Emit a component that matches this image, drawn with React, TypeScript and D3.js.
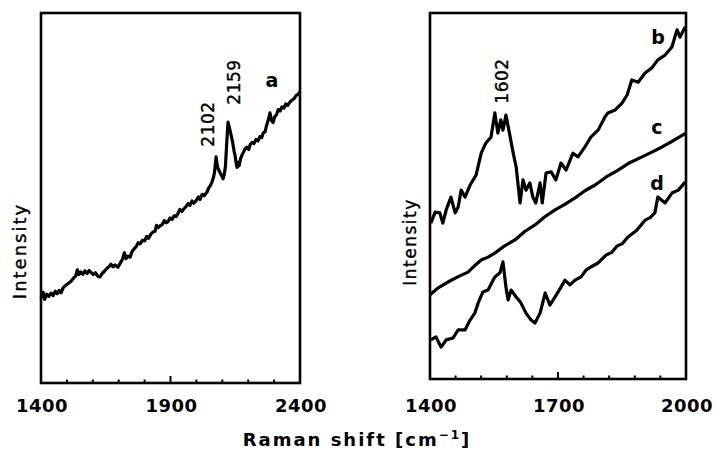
import React from "react";
import * as d3 from "d3";

// left panel, spectrum a
const shiftA = [
  1400, 1408, 1414, 1422, 1430, 1439, 1447, 1455, 1463, 1470, 1477, 1486, 1495, 1505, 1516, 1526, 1534, 1540, 1546, 1553,
  1562, 1570, 1578, 1586, 1593, 1602, 1610, 1620, 1628, 1636, 1645, 1655, 1663, 1670, 1678, 1686, 1697, 1706, 1715, 1722,
  1728, 1736, 1744, 1752, 1760, 1768, 1775, 1783, 1792, 1800, 1808, 1815, 1824, 1832, 1840, 1846, 1852, 1860, 1868, 1876,
  1884, 1890, 1898, 1906, 1914, 1922, 1929, 1936, 1944, 1952, 1960, 1968, 1975, 1983, 1990, 2000, 2008, 2014, 2022, 2030,
  2041, 2048, 2055, 2060, 2066, 2070, 2076, 2080, 2083, 2090, 2097, 2103, 2108, 2112, 2116, 2122, 2128, 2134, 2140, 2146,
  2150, 2154, 2157, 2161, 2165, 2170, 2176, 2182, 2188, 2195, 2202, 2208, 2215, 2222, 2230, 2238, 2245, 2252, 2258, 2265,
  2271, 2278, 2284, 2290, 2296, 2302, 2310, 2316, 2323, 2330, 2338, 2345, 2352, 2361, 2370, 2378, 2386, 2393, 2400,
];
const intensityA = [
  23.0, 24.5, 22.6, 24.0, 23.4, 24.3, 23.6, 24.8, 24.1, 25.0, 24.4, 25.8, 26.4, 26.9, 27.5, 28.4, 28.9, 30.6, 29.3, 30.0,
  29.4, 30.3, 29.6, 30.4, 29.9, 29.3, 29.8, 28.8, 28.7, 29.6, 30.2, 31.0, 31.5, 32.1, 31.4, 31.9, 31.3, 32.4, 33.5, 35.2,
  33.6, 34.3, 34.0, 35.6, 36.3, 36.9, 37.9, 37.6, 38.6, 38.4, 39.6, 39.1, 40.2, 40.8, 41.0, 42.6, 42.0, 42.5, 42.8, 43.9,
  43.3, 43.6, 44.6, 44.2, 45.2, 45.0, 45.8, 46.9, 46.4, 47.1, 47.7, 48.5, 48.0, 49.2, 48.6, 49.4, 50.3, 49.6, 51.0, 50.6,
  51.6, 52.8, 53.5, 54.3, 55.6, 57.0, 61.1, 59.0, 58.1, 57.0, 56.1, 55.2, 56.5, 58.5, 63.5, 70.5, 68.8, 67.0, 65.0, 62.5,
  61.2, 59.2, 58.3, 59.6, 58.7, 60.5, 61.6, 62.4, 63.3, 63.7, 63.1, 64.5, 65.0, 64.7, 65.8, 65.4, 66.6, 66.3, 67.6, 67.9,
  69.6, 71.2, 73.0, 71.0, 70.4, 71.9, 72.6, 73.9, 73.5, 74.6, 74.3, 75.4, 75.0, 75.9, 76.5, 76.9, 77.8, 78.0, 78.8,
];

// right panel, spectra b, c, d
const shiftB = [
  1402, 1412, 1423, 1430, 1438, 1449, 1459, 1466, 1473, 1482, 1494, 1508, 1520, 1531, 1543, 1552, 1559, 1566, 1571, 1578,
  1588, 1595, 1602, 1611, 1618, 1625, 1634, 1641, 1648, 1658, 1663, 1672, 1684, 1695, 1707, 1719, 1735, 1747, 1763, 1777,
  1794, 1810, 1817, 1834, 1850, 1862, 1873, 1888, 1904, 1920, 1934, 1951, 1967, 1979, 1986, 1998,
];
const intensityB = [
  42.6, 45.6, 45.4, 42.6, 46.2, 49.7, 45.4, 47.0, 51.6, 49.7, 53.0, 55.7, 61.7, 64.5, 66.1, 72.7, 67.2, 70.8, 68.0, 72.1,
  66.1, 61.7, 57.9, 48.1, 54.4, 51.6, 53.6, 49.7, 48.1, 53.6, 48.1, 56.3, 56.6, 54.4, 59.0, 57.1, 61.7, 60.7, 63.4, 66.1,
  68.0, 71.6, 72.7, 73.5, 75.4, 77.6, 81.7, 81.1, 83.6, 85.0, 87.2, 88.5, 90.7, 95.4, 93.4, 96.2,
];

const shiftC = [
  1400, 1418, 1442, 1465, 1489, 1505, 1520, 1536, 1552, 1575, 1599, 1622, 1646, 1670, 1693, 1716, 1740, 1764, 1787, 1813,
  1840, 1868, 1897, 1920, 1944, 1970, 2000,
];
const intensityC = [
  23.0, 24.8, 26.5, 27.9, 29.2, 31.0, 32.5, 33.3, 34.4, 36.4, 38.0, 40.3, 42.1, 44.4, 46.2, 47.7, 49.5, 51.5, 53.0, 55.2,
  57.0, 59.1, 60.7, 62.0, 63.4, 65.1, 67.2,
];

const shiftD = [
  1402, 1414, 1426, 1438, 1454, 1466, 1482, 1494, 1505, 1513, 1524, 1536, 1552, 1564, 1571, 1578, 1583, 1590, 1602, 1613,
  1625, 1637, 1646, 1658, 1670, 1681, 1693, 1707, 1716, 1728, 1740, 1754, 1766, 1777, 1794, 1813, 1826, 1838, 1851, 1864,
  1884, 1904, 1916, 1927, 1934, 1951, 1967, 1982, 1998,
];
const intensityD = [
  10.7, 11.5, 8.7, 10.7, 11.2, 13.4, 13.4, 16.1, 18.0, 20.8, 23.8, 24.3, 27.9, 29.0, 32.0, 25.1, 21.6, 24.3, 22.4, 20.8,
  18.0, 16.1, 15.3, 18.0, 23.5, 20.2, 22.4, 25.1, 27.0, 25.7, 27.0, 27.9, 29.8, 30.6, 31.7, 33.9, 34.6, 36.3, 37.0, 38.8,
  40.6, 43.4, 44.1, 45.4, 49.7, 48.1, 50.8, 51.6, 53.8,
];

const ticksLeft = d3.range(1400, 2401, 100);
const labelsLeft = [1400, 1900, 2400];
const ticksRight = d3.range(1400, 2001, 60);
const labelsRight = [1400, 1700, 2000];

const font = "'DejaVu Sans', sans-serif";

interface PanelProps {
  x0: number;
  x1: number;
  y0: number;
  y1: number;
  domain: [number, number];
  ticks: number[];
  labels: number[];
  major: number;
  series: { xs: number[]; ys: number[] }[];
  children?: React.ReactNode;
}

const Panel: React.FC<PanelProps> = ({ x0, x1, y0, y1, domain, ticks, labels, major, series, children }) => {
  const x = d3.scaleLinear().domain(domain).range([x0, x1]);
  const y = d3.scaleLinear().domain([0, 100]).range([y1, y0]);
  const line = d3
    .line<[number, number]>()
    .x((d) => x(d[0]))
    .y((d) => y(d[1]));

  return (
    <g>
      {series.map((s, i) => (
        <path
          key={i}
          d={line(s.xs.map((v, j) => [v, s.ys[j]])) || ""}
          fill="none"
          stroke="#000"
          strokeWidth={3.2}
          strokeLinejoin="round"
        />
      ))}
      <rect x={x0} y={y0} width={x1 - x0} height={y1 - y0} fill="none" stroke="#000" strokeWidth={2.6} />
      {ticks.map((t) => (
        <line
          key={t}
          x1={x(t)}
          x2={x(t)}
          y1={y1}
          y2={y1 - (t === major ? 7 : 3.5)}
          stroke="#000"
          strokeWidth={2}
        />
      ))}
      {labels.map((t) => (
        <text
          key={t}
          x={x(t) + 1}
          y={412}
          textAnchor="middle"
          fontFamily={font}
          fontWeight="bold"
          fontSize={18}
          letterSpacing={0.5}
        >
          {t}
        </text>
      ))}
      {children}
    </g>
  );
};

const Rot: React.FC<{ x: number; y: number; text: string; size?: number; spacing?: number }> = ({
  x,
  y,
  text,
  size = 17,
  spacing = 0.5,
}) => (
  <text
    transform={`translate(${x},${y}) rotate(-90)`}
    textAnchor="middle"
    dominantBaseline="central"
    fontFamily={font}
    fontSize={size}
    letterSpacing={spacing}
    stroke="#000"
    strokeWidth={0.4}
  >
    {text}
  </text>
);

const Letter: React.FC<{ x: number; y: number; text: string }> = ({ x, y, text }) => (
  <text x={x} y={y} textAnchor="middle" dominantBaseline="central" fontFamily={font} fontWeight="bold" fontSize={19}>
    {text}
  </text>
);

export default function App() {
  return (
    <svg width={715} height={456} style={{ position: "absolute", left: 0, top: 0, background: "#fff" }}>
      <Panel
        x0={41}
        x1={300}
        y0={13}
        y1={383}
        domain={[1400, 2400]}
        ticks={ticksLeft}
        labels={labelsLeft}
        major={1900}
        series={[{ xs: shiftA, ys: intensityA }]}
      >
        <Rot x={208} y={124} text="2102" />
        <Rot x={234} y={82} text="2159" />
        <Letter x={272} y={80} text="a" />
      </Panel>
      <Panel
        x0={430}
        x1={686}
        y0={13}
        y1={379}
        domain={[1400, 2000]}
        ticks={ticksRight}
        labels={labelsRight}
        major={1700}
        series={[
          { xs: shiftB, ys: intensityB },
          { xs: shiftC, ys: intensityC },
          { xs: shiftD, ys: intensityD },
        ]}
      >
        <Rot x={502} y={81} text="1602" />
        <Letter x={658} y={37} text="b" />
        <Letter x={657} y={127} text="c" />
        <Letter x={657} y={183} text="d" />
      </Panel>
      <Rot x={19} y={251} text="Intensity" size={18} spacing={2} />
      <Rot x={410} y={242} text="Intensity" size={17} spacing={1.5} />
      <text x={357} y={446} textAnchor="middle" fontFamily={font} fontSize={18} fontWeight="bold" letterSpacing={2}>
        Raman shift [cm
        <tspan fontSize={12} dy={-7}>
          −1
        </tspan>
        <tspan dy={7}>]</tspan>
      </text>
    </svg>
  );
}
